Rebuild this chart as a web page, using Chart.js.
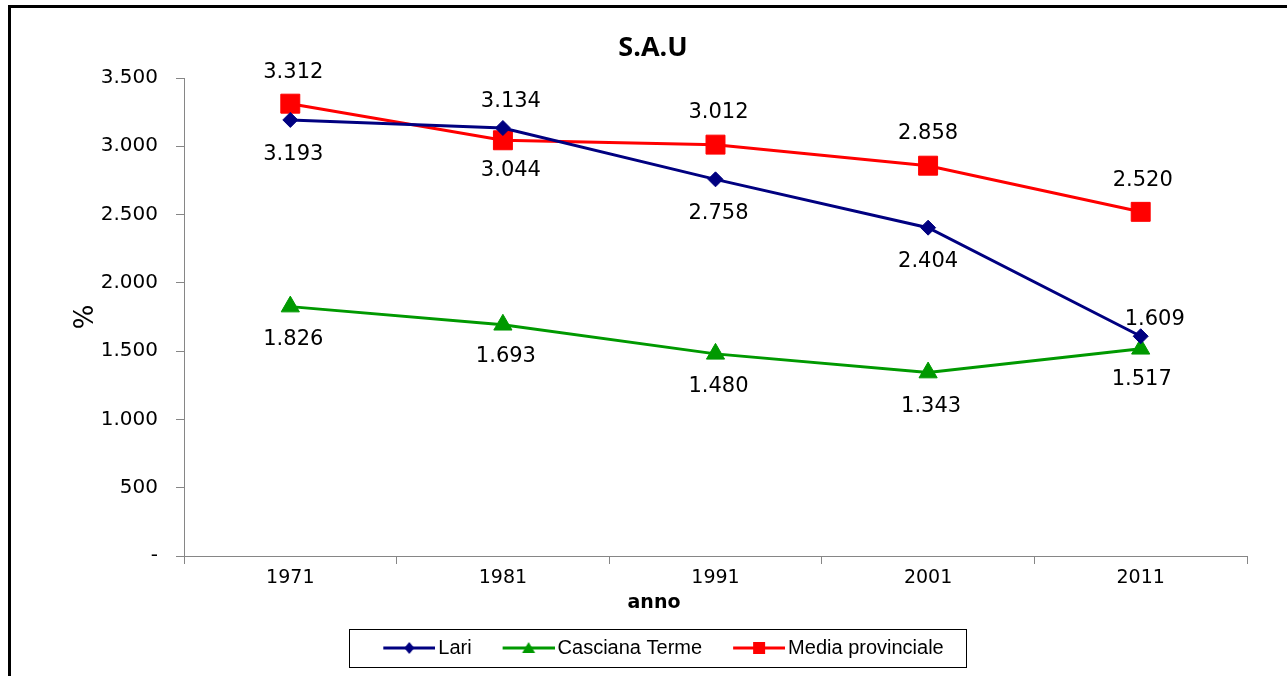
<!DOCTYPE html>
<html><head><meta charset="utf-8">
<script src="https://cdn.jsdelivr.net/npm/chart.js@4.4.1/dist/chart.umd.min.js"></script>
<style>
html,body{margin:0;padding:0;background:#fff;overflow:hidden;width:1287px;height:676px;}
#frameL{position:absolute;left:8px;top:5px;width:3px;height:671px;background:#000;}
#frameT{position:absolute;left:8px;top:5px;width:1279px;height:3px;background:#000;}
#c{position:absolute;left:59px;top:8px;}
</style></head><body>
<div id="frameT"></div><div id="frameL"></div>
<canvas id="c" width="1190" height="668"></canvas>
<script>
// ---- data ----
const categories = ['1971', '1981', '1991', '2001', '2011'];
const lari = [3193, 3134, 2758, 2404, 1609];
const casciana = [1826, 1693, 1480, 1343, 1517];
const mediaProvinciale = [3312, 3044, 3012, 2858, 2520];
const seriesNames = ['Lari', 'Casciana Terme', 'Media provinciale'];
const yTickValues = [0, 500, 1000, 1500, 2000, 2500, 3000, 3500];
const yTickLabels = ['-', '500', '1.000', '1.500', '2.000', '2.500', '3.000', '3.500'];
const chartTitle = 'S.A.U';
const xTitle = 'anno';
const yTitle = '%';

// ---- styling ----
const colors = ['#000080', '#009900', '#FF0000'];
const pointStyles = ['rectRot', 'triangle', 'rect'];
const pointRadii = [7.5, 10.5, 13.4];
// label offsets (dx, dy) in pixels relative to each point
const labelOffsets = [
  [[3, 35], [8, -26], [3, 34], [0, 34], [14, -17]],
  [[3, 33], [3, 32], [3, 33], [3, 34], [1, 31]],
  [[3, -31], [8, 30], [3, -32], [0, -32], [2, -31]]
];

function fmt(v) { return String(v).replace(/\B(?=(\d{3})+(?!\d))/g, '.'); }

function legendSymbol(i) {
  const c = document.createElement('canvas');
  c.width = 80; c.height = 24;
  const g = c.getContext('2d');
  g.strokeStyle = colors[i]; g.fillStyle = colors[i]; g.lineWidth = 3;
  g.beginPath(); g.moveTo(28, 12); g.lineTo(80, 12); g.stroke();
  const cx = 54, cy = 12;
  g.beginPath();
  if (pointStyles[i] === 'rectRot') {
    g.moveTo(cx, cy - 6); g.lineTo(cx + 5, cy); g.lineTo(cx, cy + 6); g.lineTo(cx - 5, cy); g.closePath();
  } else if (pointStyles[i] === 'triangle') {
    g.moveTo(cx, cy - 6); g.lineTo(cx + 6.5, cy + 5); g.lineTo(cx - 6.5, cy + 5); g.closePath();
  } else {
    g.rect(cx - 6, cy - 6, 12, 12);
  }
  g.fill();
  return c;
}

const valueLabels = {
  id: 'valueLabels',
  afterDatasetsDraw(chart) {
    const ctx = chart.ctx;
    ctx.save();
    ctx.font = "21px 'DejaVu Sans'";
    ctx.fillStyle = '#000';
    ctx.textAlign = 'center';
    ctx.textBaseline = 'middle';
    chart.data.datasets.forEach((ds, i) => {
      const meta = chart.getDatasetMeta(i);
      meta.data.forEach((pt, j) => {
        const o = labelOffsets[i][j];
        ctx.fillText(fmt(ds.data[j]), pt.x + o[0], pt.y + o[1]);
      });
    });
    ctx.restore();
  }
};

// x-axis title, centred on the whole chart (as in the original) just above the legend
const xAxisTitle = {
  id: 'xAxisTitle',
  afterDraw(chart) {
    const sx = chart.scales.x;
    const ctx = chart.ctx;
    ctx.save();
    ctx.font = "bold 19px 'DejaVu Sans'";
    ctx.fillStyle = '#000';
    ctx.textAlign = 'center';
    ctx.textBaseline = 'middle';
    ctx.fillText(xTitle, chart.width / 2, sx.bottom - 25.4);
    ctx.restore();
  }
};

const legendFrame = {
  id: 'legendFrame',
  afterDraw(chart) {
    const hb = chart.legend && chart.legend.legendHitBoxes;
    if (!hb || !hb.length) return;
    const first = hb[0], last = hb[hb.length - 1];
    const x1 = Math.round(first.left - 13) + 0.5;
    const x2 = Math.round(last.left + last.width + 22) + 0.5;
    const y1 = Math.round(first.top - 9) + 0.5;
    const y2 = Math.round(first.top + 29) + 0.5;
    const ctx = chart.ctx;
    ctx.save();
    ctx.strokeStyle = '#000'; ctx.lineWidth = 1;
    ctx.strokeRect(x1, y1, x2 - x1, y2 - y1);
    ctx.restore();
  }
};

const seriesData = [lari, casciana, mediaProvinciale];
const datasets = seriesData.map((d, i) => ({
  label: seriesNames[i],
  data: d,
  borderColor: colors[i],
  backgroundColor: colors[i],
  borderWidth: 3,
  pointStyle: pointStyles[i],
  pointRadius: pointRadii[i],
  pointHoverRadius: pointRadii[i],
  pointBackgroundColor: colors[i],
  pointBorderColor: colors[i],
  pointBorderWidth: 1,
  tension: 0,
  fill: false
}));

new Chart(document.getElementById('c'), {
  type: 'line',
  data: { labels: categories, datasets },
  plugins: [valueLabels, xAxisTitle, legendFrame],
  options: {
    responsive: false,
    devicePixelRatio: 1,
    animation: false,
    layout: { autoPadding: false, padding: { left: 0, right: 2, top: 0, bottom: 8 } },
    plugins: {
      tooltip: { enabled: false },
      title: {
        display: true, text: chartTitle, color: '#000',
        font: { family: "'Open Sans'", size: 27, weight: 'bold' },
        padding: { top: 24, bottom: 13.6 }
      },
      legend: {
        position: 'bottom',
        labels: {
          color: '#000',
          font: { family: "'Liberation Sans'", size: 20 },
          usePointStyle: true,
          pointStyleWidth: 66,
          padding: 10,
          generateLabels(chart) {
            return chart.data.datasets.map((ds, i) => ({
              text: ds.label,
              pointStyle: legendSymbol(i),
              fillStyle: colors[i],
              strokeStyle: colors[i],
              lineWidth: 0,
              fontColor: '#000',
              hidden: false,
              datasetIndex: i
            }));
          }
        }
      }
    },
    scales: {
      x: {
        offset: true,
        grid: { display: true, offset: true, drawOnChartArea: false, drawTicks: true, tickLength: 8, color: '#868686' },
        border: { display: true, color: '#868686', width: 1 },
        ticks: { color: '#000', font: { family: "'DejaVu Sans'", size: 19 }, padding: 3, maxRotation: 0 },
        title: { display: false },
        afterFit(scale) { scale.height = 72; scale.paddingLeft = 0; scale.paddingRight = 0; }
      },
      y: {
        min: 0, max: 3500,
        grid: { display: true, drawOnChartArea: false, drawTicks: true, tickLength: 8, color: '#868686' },
        border: { display: true, color: '#868686', width: 1 },
        afterBuildTicks(scale) { scale.ticks = yTickValues.map(v => ({ value: v })); },
        ticks: {
          color: '#000', font: { family: "'DejaVu Sans'", size: 20 }, padding: 18,
          callback(v) { const k = yTickValues.indexOf(v); return k >= 0 ? yTickLabels[k] : ''; }
        },
        title: { display: true, text: yTitle, color: '#000', font: { family: "'DejaVu Sans'", size: 26 }, padding: { top: 12, bottom: 0 } },
        afterFit(scale) { scale.width = 125; }
      }
    }
  }
});
</script>
</body></html>
